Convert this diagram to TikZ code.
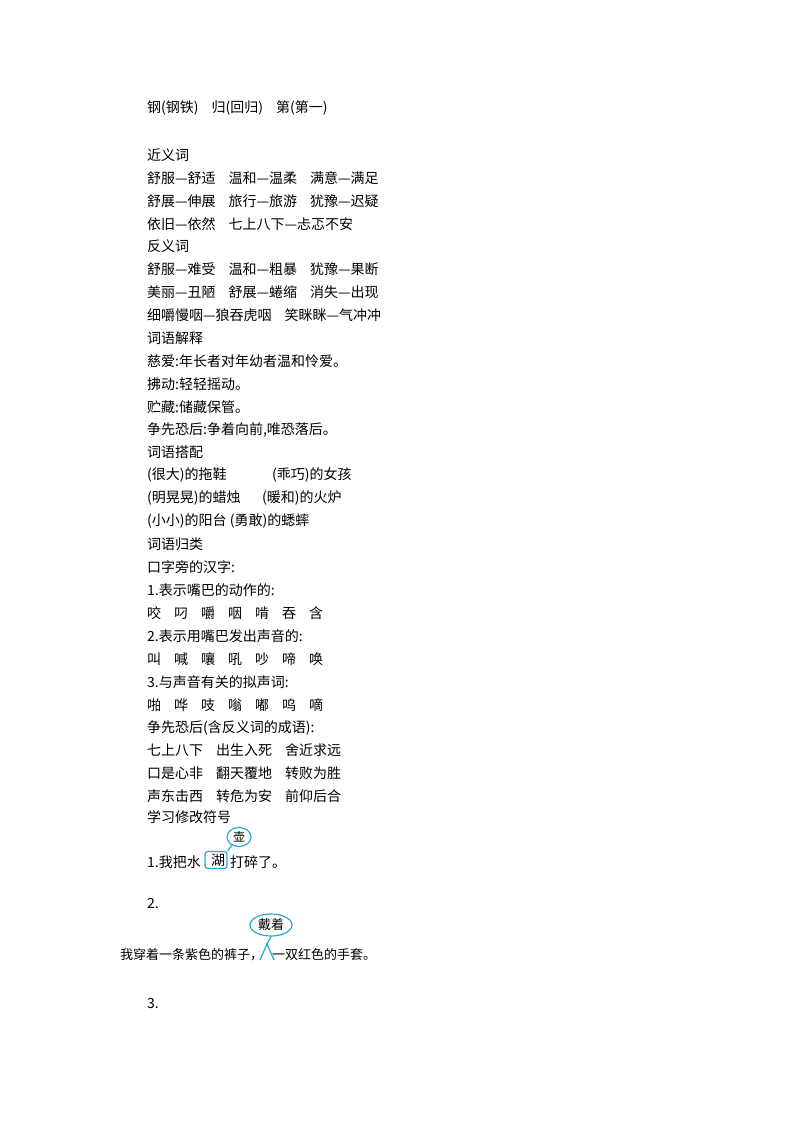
\documentclass[tikz,border=0pt]{standalone}
\usepackage{fontspec}
\usetikzlibrary{shapes.geometric}
\setmainfont{Noto Sans CJK SC}
\definecolor{mk}{HTML}{2AA7D6}
\begin{document}
\begin{tikzpicture}[x=1pt,y=-1pt,
 ln/.style={anchor=west,inner sep=0pt,font=\fontsize{14}{14}\selectfont},
 mkline/.style={draw=mk,line width=1.2pt}]
\useasboundingbox (0,0) rectangle (800,1132);
\newcommand{\g}{\hspace{13pt}}
\node[ln] (l1) at (147,108) {钢(钢铁)\g 归(回归)\g 第(第一)};
\node[ln] (l2) at (147,155) {近义词};
\node[ln] (l3) at (147,178) {舒服—舒适\g 温和—温柔\g 满意—满足};
\node[ln] (l4) at (147,201) {舒展—伸展\g 旅行—旅游\g 犹豫—迟疑};
\node[ln] (l5) at (147,224) {依旧—依然\g 七上八下—忐忑不安};
\node[ln] (l6) at (147,246) {反义词};
\node[ln] (l7) at (147,269) {舒服—难受\g 温和—粗暴\g 犹豫—果断};
\node[ln] (l8) at (147,292) {美丽—丑陋\g 舒展—蜷缩\g 消失—出现};
\node[ln] (l9) at (147,315) {细嚼慢咽—狼吞虎咽\g 笑眯眯—气冲冲};
\node[ln] (l10) at (147,338) {词语解释};
\node[ln] (l11) at (147,361) {慈爱:年长者对年幼者温和怜爱。};
\node[ln] (l12) at (147,384) {拂动:轻轻摇动。};
\node[ln] (l13) at (147,407) {贮藏:储藏保管。};
\node[ln] (l14) at (147,430) {争先恐后:争着向前,唯恐落后。};
\node[ln] (l15) at (147,452) {词语搭配};
\node[ln] (l16a) at (147,475) {(很大)的拖鞋};
\node[ln] (l16b) at (272,475) {(乖巧)的女孩};
\node[ln] (l17a) at (147,498) {(明晃晃)的蜡烛};
\node[ln] (l17b) at (262,498) {(暖和)的火炉};
\node[ln] (l18) at (147,521) {(小小)的阳台 (勇敢)的蟋蟀};
\node[ln] (l19) at (147,544) {词语归类};
\node[ln] (l20) at (147,567) {口字旁的汉字:};
\node[ln] (l21) at (147,590) {1.表示嘴巴的动作的:};
\node[ln] (l22) at (147,613) {咬\g 叼\g 嚼\g 咽\g 啃\g 吞\g 含};
\node[ln] (l23) at (147,636) {2.表示用嘴巴发出声音的:};
\node[ln] (l24) at (147,659) {叫\g 喊\g 嚷\g 吼\g 吵\g 啼\g 唤};
\node[ln] (l25) at (147,682) {3.与声音有关的拟声词:};
\node[ln] (l26) at (147,705) {啪\g 哗\g 吱\g 嗡\g 嘟\g 呜\g 嘀};
\node[ln] (l27) at (147,728) {争先恐后(含反义词的成语):};
\node[ln] (l28) at (147,750) {七上八下\g 出生入死\g 舍近求远};
\node[ln] (l29) at (147,773) {口是心非\g 翻天覆地\g 转败为胜};
\node[ln] (l30) at (147,796) {声东击西\g 转危为安\g 前仰后合};
\node[ln] (l31) at (147,817) {学习修改符号};
% item 1
\node[ln] (s1a) at (147,862) {1.我把水};
\node[ln] (s1b) at (211,860) {湖};
\node[ln] (s1c) at (230,862) {打碎了。};
\node[mkline,rounded corners=3pt,minimum width=22pt,minimum height=17pt] (bx) at (216,860) {};
\node[mkline,ellipse,inner sep=1pt,minimum width=24pt,minimum height=19pt,font=\fontsize{12}{12}\selectfont] (hu) at (239,837) {壶};
\draw[mkline] (hu) -- (bx.north east);
% item 2
\node[ln] (s2) at (147,903) {2.};
\node[mkline,ellipse,inner sep=1pt,minimum width=42pt,minimum height=22pt,font=\fontsize{13}{13}\selectfont] (dz) at (271,925) {戴着};
\node[ln,font=\fontsize{13}{13}\selectfont] (s2a) at (120,955) {我穿着一条紫色的裤子，};
\node[ln,font=\fontsize{13}{13}\selectfont] (s2b) at (272,955) {一双红色的手套。};
\coordinate (ins) at (267,944);
\draw[mkline] (dz.south) -- (ins);
\draw[mkline] (260,960) -- (ins) -- (274,960);
\node[ln] (s3) at (147,1003) {3.};
\end{tikzpicture}
\end{document}
